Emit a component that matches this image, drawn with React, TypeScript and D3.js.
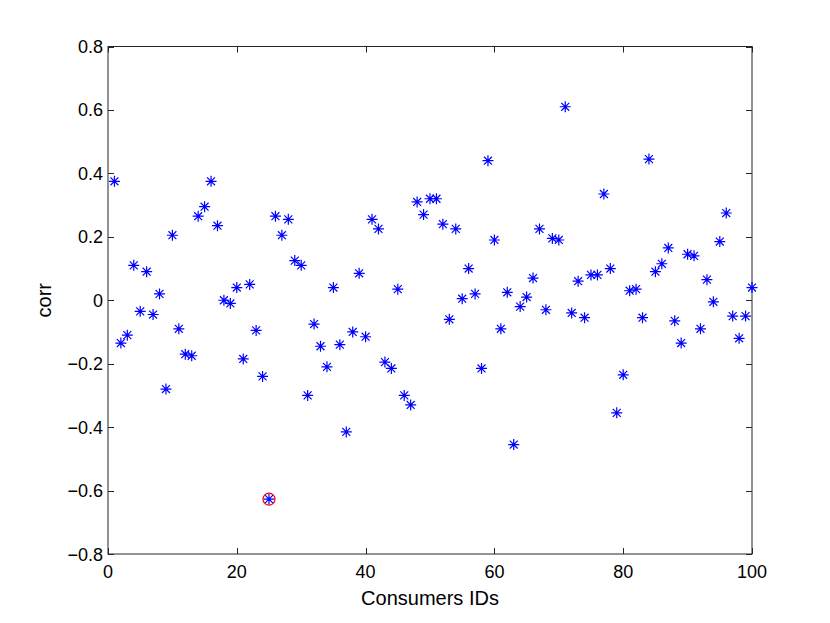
import React, { useRef, useEffect } from "react";
import * as d3 from "d3";

// correlation per consumer, consumer IDs 1..100
const consumerIds = d3.range(1, 101);
const corrValues = [
  0.375, -0.135, -0.11, 0.11, -0.035, 0.09, -0.045, 0.02, -0.28, 0.205,
  -0.09, -0.17, -0.175, 0.265, 0.295, 0.375, 0.235, 0.0, -0.01, 0.04,
  -0.185, 0.05, -0.095, -0.24, -0.627, 0.265, 0.205, 0.255, 0.125, 0.11,
  -0.3, -0.075, -0.145, -0.21, 0.04, -0.14, -0.415, -0.1, 0.085, -0.115,
  0.255, 0.225, -0.195, -0.215, 0.035, -0.3, -0.33, 0.31, 0.27, 0.32,
  0.32, 0.24, -0.06, 0.225, 0.005, 0.1, 0.02, -0.215, 0.44, 0.19,
  -0.09, 0.025, -0.455, -0.02, 0.01, 0.07, 0.225, -0.03, 0.195, 0.19,
  0.61, -0.04, 0.06, -0.055, 0.08, 0.08, 0.335, 0.1, -0.355, -0.235,
  0.03, 0.035, -0.055, 0.445, 0.09, 0.115, 0.165, -0.065, -0.135, 0.145,
  0.14, -0.09, 0.065, -0.005, 0.185, 0.275, -0.05, -0.12, -0.05, 0.04,
];
const highlightId = 25;
const xTicks = [0, 20, 40, 60, 80, 100];
const yTicks = [-0.8, -0.6, -0.4, -0.2, 0, 0.2, 0.4, 0.6, 0.8];

const App = () => {
  const svgRef = useRef(null);

  useEffect(() => {
    const svg = d3.select(svgRef.current);
    svg.selectAll("*").remove();

    const left = 108, right = 752, top = 46.5, bottom = 554;
    const x = d3.scaleLinear().domain([0, 100]).range([left, right]);
    const y = d3.scaleLinear().domain([-0.8, 0.8]).range([bottom, top]);
    const font = "'Liberation Sans', Arial, sans-serif";
    const tick = 6;

    // frame
    svg
      .append("rect")
      .attr("x", left)
      .attr("y", top)
      .attr("width", right - left)
      .attr("height", bottom - top)
      .attr("fill", "white")
      .attr("stroke", "#262626")
      .attr("stroke-width", 1);

    // inward ticks on all four sides
    const g = svg.append("g").attr("stroke", "#262626").attr("stroke-width", 1);
    xTicks.forEach((t) => {
      const px = Math.round(x(t)) + 0.5;
      g.append("line").attr("x1", px).attr("x2", px).attr("y1", bottom).attr("y2", bottom - tick);
      g.append("line").attr("x1", px).attr("x2", px).attr("y1", top).attr("y2", top + tick);
    });
    yTicks.forEach((t) => {
      const py = Math.round(y(t)) + 0.5;
      g.append("line").attr("x1", left).attr("x2", left + tick).attr("y1", py).attr("y2", py);
      g.append("line").attr("x1", right).attr("x2", right - tick).attr("y1", py).attr("y2", py);
    });

    // tick labels
    svg
      .selectAll(".xl")
      .data(xTicks)
      .enter()
      .append("text")
      .attr("x", (d) => x(d))
      .attr("y", bottom + 24)
      .attr("text-anchor", "middle")
      .style("font-family", font)
      .style("font-size", "18px")
      .text((d) => d3.format("d")(d));

    svg
      .selectAll(".yl")
      .data(yTicks)
      .enter()
      .append("text")
      .attr("x", left - 5)
      .attr("y", (d) => y(d) + 6.5)
      .attr("text-anchor", "end")
      .style("font-family", font)
      .style("font-size", "18px")
      .text((d) => (d === 0 ? "0" : d3.format(".1f")(d).replace("-", "\u2212")));

    // axis titles
    svg
      .append("text")
      .attr("x", (left + right) / 2)
      .attr("y", bottom + 51)
      .attr("text-anchor", "middle")
      .style("font-family", font)
      .style("font-size", "20px")
      .text("Consumers IDs");

    svg
      .append("text")
      .attr("transform", `translate(51, ${(top + bottom) / 2}) rotate(-90)`)
      .attr("text-anchor", "middle")
      .style("font-family", font)
      .style("font-size", "20px")
      .text("corr");

    // asterisk markers
    const r = 5.5;
    const d2 = r * 0.72;
    const star = `M${-r},0L${r},0M0,${-r}L0,${r}M${-d2},${-d2}L${d2},${d2}M${-d2},${d2}L${d2},${-d2}`;
    const points = consumerIds.map((id, i) => ({ id, v: corrValues[i] }));

    svg
      .append("g")
      .selectAll("path")
      .data(points)
      .enter()
      .append("path")
      .attr("transform", (d) => `translate(${x(d.id)}, ${y(d.v)})`)
      .attr("d", star)
      .attr("fill", "none")
      .attr("stroke", "#0000ff")
      .attr("stroke-width", 1.2);

    // highlighted consumer
    const hl = points.find((p) => p.id === highlightId);
    svg
      .append("circle")
      .attr("cx", x(hl.id))
      .attr("cy", y(hl.v))
      .attr("r", 6)
      .attr("fill", "none")
      .attr("stroke", "#ff0000")
      .attr("stroke-width", 1.2);
  }, []);

  return (
    <svg
      ref={svgRef}
      width={830}
      height={623}
      style={{ display: "block", position: "absolute", left: 0, top: 0, background: "white" }}
    ></svg>
  );
};

export default App;
